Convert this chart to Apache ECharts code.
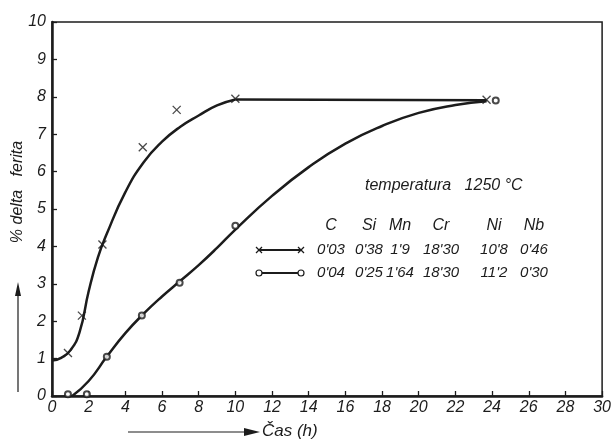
<!DOCTYPE html>
<html>
<head>
<meta charset="utf-8">
<script src="https://cdn.jsdelivr.net/npm/echarts@6/dist/echarts.min.js"></script>
<style>
html,body{margin:0;padding:0;background:#fff;}
#c{width:614px;height:444px;}
</style>
</head>
<body>
<div id="c"></div>
<script>
// ---- data ----
// Steel 1 (x markers): measured points
const markA_t = [0.87, 1.63, 2.75, 4.95, 6.8, 10.0, 23.7];
const markA_v = [1.15, 2.15, 4.05, 6.65, 7.65, 7.95, 7.92];
// Steel 1 fitted curve
const curveA_t = [0, 0.5, 1.0, 1.5, 2.0, 2.5, 3.0, 4.0, 5.0, 6.0, 7.0, 8.0, 9.0, 10.0];
const curveA_v = [0.95, 1.02, 1.22, 1.7, 2.8, 3.7, 4.35, 5.45, 6.25, 6.8, 7.2, 7.5, 7.77, 7.93];
// Steel 1 plateau
const plateauA_t = [10.0, 23.7];
const plateauA_v = [7.93, 7.91];
// Steel 2 (o markers): measured points
const markB_t = [0.87, 1.9, 2.99, 4.9, 6.96, 10.0, 24.2];
const markB_v = [0.05, 0.05, 1.05, 2.15, 3.03, 4.55, 7.9];
// Steel 2 fitted curve
const curveB_t = [1.1, 2.0, 3.0, 4.0, 5.0, 6.0, 7.0, 8.0, 9.0, 10.0, 12.0, 14.0, 16.0, 18.0, 20.0, 22.0, 23.7];
const curveB_v = [0.0, 0.4, 1.06, 1.68, 2.2, 2.66, 3.08, 3.5, 3.96, 4.45, 5.35, 6.12, 6.75, 7.22, 7.57, 7.78, 7.88];

const yTicks = [0,1,2,3,4,5,6,7,8,9,10];
const xTicks = [0,2,4,6,8,10,12,14,16,18,20,22,24,26,28,30];

const compHeader = ['C','Si','Mn','Cr','Ni','Nb'];
const compRow1 = ["0'03","0'38","1'9","18'30","10'8","0'46"];
const compRow2 = ["0'04","0'25","1'64","18'30","11'2","0'30"];

// ---- helpers ----
const zip = (a,b) => a.map((v,i)=>[v,b[i]]);
const INK = '#1c1c1c';
const FONT = 'Liberation Sans';
const crossPath = 'path://M0,0L10,10M10,0L0,10';

const colX = [331, 369, 400, 441, 494, 534];
const textStyleBase = {fill: INK, fontFamily: FONT, fontStyle: 'italic', fontSize: 15};

const graphics = [];
graphics.push({type:'text', left:365, top:178, style:Object.assign({}, textStyleBase, {text:'temperatura   1250 °C', fontSize:16})});
compHeader.forEach((s,i)=>graphics.push({type:'text', x:colX[i], y:226, style:Object.assign({}, textStyleBase, {text:s, fontSize:16, textAlign:'center', textVerticalAlign:'middle'})}));
compRow1.forEach((s,i)=>graphics.push({type:'text', x:colX[i], y:250, style:Object.assign({}, textStyleBase, {text:s, textAlign:'center', textVerticalAlign:'middle'})}));
compRow2.forEach((s,i)=>graphics.push({type:'text', x:colX[i], y:273, style:Object.assign({}, textStyleBase, {text:s, textAlign:'center', textVerticalAlign:'middle'})}));
// legend keys
graphics.push({type:'line', shape:{x1:260,y1:250,x2:300,y2:250}, style:{stroke:INK, lineWidth:2}});
graphics.push({type:'line', shape:{x1:256,y1:247,x2:262,y2:253}, style:{stroke:INK, lineWidth:1.2}});
graphics.push({type:'line', shape:{x1:256,y1:253,x2:262,y2:247}, style:{stroke:INK, lineWidth:1.2}});
graphics.push({type:'line', shape:{x1:298,y1:247,x2:304,y2:253}, style:{stroke:INK, lineWidth:1.2}});
graphics.push({type:'line', shape:{x1:298,y1:253,x2:304,y2:247}, style:{stroke:INK, lineWidth:1.2}});
graphics.push({type:'line', shape:{x1:262,y1:273,x2:298,y2:273}, style:{stroke:INK, lineWidth:2}});
graphics.push({type:'circle', shape:{cx:259,cy:273,r:3}, style:{stroke:INK, fill:'#fff', lineWidth:1.2}});
graphics.push({type:'circle', shape:{cx:301,cy:273,r:3}, style:{stroke:INK, fill:'#fff', lineWidth:1.2}});
// y axis name and arrow
graphics.push({type:'text', x:18, y:192, rotation:Math.PI/2, style:Object.assign({}, textStyleBase, {text:'% delta   ferita', fontSize:16, textAlign:'center', textVerticalAlign:'middle'})});
graphics.push({type:'line', shape:{x1:18,y1:392,x2:18,y2:292}, style:{stroke:INK, lineWidth:1.2}});
graphics.push({type:'polygon', shape:{points:[[18,282],[15,296],[21,296]]}, style:{fill:INK}});
// x axis name and arrow
graphics.push({type:'line', shape:{x1:128,y1:432,x2:248,y2:432}, style:{stroke:INK, lineWidth:1.2}});
graphics.push({type:'polygon', shape:{points:[[260,432],[244,428],[244,436]]}, style:{fill:INK}});
graphics.push({type:'text', left:262, top:423, style:Object.assign({}, textStyleBase, {text:'Čas (h)', fontSize:17})});

const axisLabel = {color: INK, fontFamily: FONT, fontStyle: 'italic', fontSize: 16};

const lineBase = {type:'line', showSymbol:false, symbol:'none', lineStyle:{color:INK, width:2.5}, z:3};

const option = {
  backgroundColor: '#fff',
  animation: false,
  grid: {left:52, right:9, top:22, bottom:48, show:true, borderColor:INK, borderWidth:1.5, backgroundColor:'transparent'},
  xAxis: {
    type:'value', min:0, max:30, interval:2,
    axisLine:{show:true, lineStyle:{color:INK, width:2.5}},
    axisTick:{show:true, inside:true, length:5, lineStyle:{color:INK, width:1.3}},
    splitLine:{show:false},
    axisLabel:Object.assign({}, axisLabel, {margin:4, formatter:v=>xTicks.includes(v)?String(v):''})
  },
  yAxis: {
    type:'value', min:0, max:10, interval:1,
    axisLine:{show:true, lineStyle:{color:INK, width:2.5}},
    axisTick:{show:true, inside:true, length:5, lineStyle:{color:INK, width:1.3}},
    splitLine:{show:false},
    axisLabel:Object.assign({}, axisLabel, {margin:6, formatter:v=>yTicks.includes(v)?String(v):''})
  },
  graphic: graphics,
  series: [
    Object.assign({}, lineBase, {data:zip(curveA_t, curveA_v), smooth:0.5}),
    Object.assign({}, lineBase, {data:zip(plateauA_t, plateauA_v)}),
    Object.assign({}, lineBase, {data:zip(curveB_t, curveB_v), smooth:0.5}),
    {type:'scatter', data:zip(markA_t, markA_v), symbol:crossPath, symbolSize:8, itemStyle:{color:'transparent', borderColor:INK, borderWidth:1.3}, z:4},
    {type:'scatter', data:zip(markB_t, markB_v), symbol:'emptyCircle', symbolSize:6, itemStyle:{color:INK, borderColor:INK, borderWidth:1.3}, z:4}
  ]
};
const chart = echarts.init(document.getElementById('c'), null, {renderer:'canvas'});
chart.setOption(option);
</script>
</body>
</html>
